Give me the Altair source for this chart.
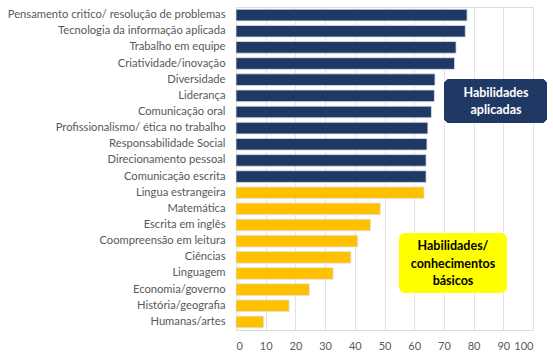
import altair as alt
import pandas as pd

categories = [
    "Pensamento critico/ resolução de problemas",
    "Tecnologia da informação aplicada",
    "Trabalho em equipe",
    "Criatividade/inovação",
    "Diversidade",
    "Liderança",
    "Comunicação oral",
    "Profissionalismo/ ética no trabalho",
    "Responsabilidade Social",
    "Direcionamento pessoal",
    "Comunicação escrita",
    "Lingua estrangeira",
    "Matemática",
    "Escrita em inglês",
    "Coompreensão em leitura",
    "Ciências",
    "Linguagem",
    "Economia/governo",
    "História/geografia",
    "Humanas/artes",
]
values = [77.8, 77.2, 74.1, 73.6, 67.0, 66.8, 65.8, 64.6, 64.3, 64.0, 64.0,
          63.3, 48.6, 45.3, 41.0, 38.7, 32.7, 24.7, 17.9, 9.3]
groups = ["aplicadas"] * 11 + ["basicos"] * 9
x_ticks = [0, 10, 20, 30, 40, 50, 60, 70, 80, 90, 100]

df = pd.DataFrame({"cat": categories, "val": values, "grp": groups})

FONT = "Lato"
W, H = 297, 323

bars = alt.Chart(df).mark_bar(stroke="#dde3ee", strokeWidth=0.8).encode(
    y=alt.Y("cat:N", sort=categories, title=None,
            scale=alt.Scale(paddingInner=0.28, paddingOuter=0.14),
            axis=alt.Axis(domain=False, ticks=False, grid=False, labelFont=FONT,
                          labelFontSize=11.2, labelColor="#595959", labelPadding=11,
                          labelLimit=300)),
    x=alt.X("val:Q", title=None,
            scale=alt.Scale(domain=[0, 100], nice=False),
            axis=alt.Axis(values=x_ticks, domain=False, ticks=False, grid=True,
                          gridColor="#e3e3e3", labelFont=FONT, labelFontSize=11,
                          labelColor="#595959", labelPadding=10)),
    color=alt.Color("grp:N", legend=None,
                    scale=alt.Scale(domain=["aplicadas", "basicos"],
                                    range=["#1f3864", "#ffc000"])),
)

box1 = alt.Chart(df).mark_rect(color="#1f3864", cornerRadius=7).encode(
    x=alt.value(208), x2=alt.value(311), y=alt.value(72), y2=alt.value(116)
)
txt1 = alt.Chart(pd.DataFrame({"t": [["Habilidades", "aplicadas"]]})).mark_text(
    color="white", font=FONT, fontSize=12.5, fontWeight="bold", lineHeight=17,
    baseline="middle", align="center"
).encode(x=alt.value(260), y=alt.value(86), text="t:N")

box2 = alt.Chart(df).mark_rect(color="#ffff00", cornerRadius=8).encode(
    x=alt.value(163), x2=alt.value(271), y=alt.value(226), y2=alt.value(286)
)
txt2 = alt.Chart(pd.DataFrame({"t": [["Habilidades/", "conhecimentos", "básicos"]]})).mark_text(
    color="black", font=FONT, fontSize=12.5, fontWeight="bold", lineHeight=17.5,
    baseline="middle", align="center"
).encode(x=alt.value(217), y=alt.value(239), text="t:N")

chart = alt.layer(bars, box1, txt1, box2, txt2).properties(
    width=W, height=H,
    autosize=alt.AutoSizeParams(type="none"),
    padding={"left": 236, "top": 7, "right": 20, "bottom": 26},
).configure_view(stroke=None).configure(background="white")

chart.save("out.html", embed_options={"renderer": "svg", "actions": False})
